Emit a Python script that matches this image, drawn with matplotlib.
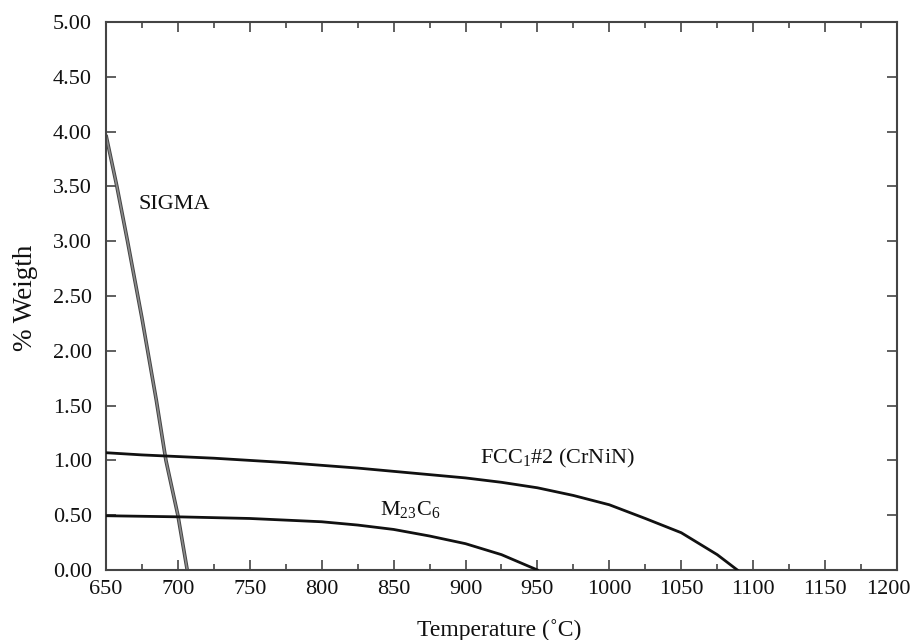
import matplotlib
matplotlib.use("Agg")
import matplotlib.pyplot as plt
from matplotlib.ticker import MultipleLocator, FormatStrFormatter
from matplotlib.transforms import ScaledTranslation

plt.rcParams['font.family'] = ['Liberation Serif', 'DejaVu Serif']
plt.rcParams['mathtext.default'] = 'regular'

# Phase fractions (% weight) versus temperature (°C)
sigma_T = [650, 657.6, 665, 675, 685, 691.7, 700, 706.5]
sigma_w = [3.97, 3.50, 3.00, 2.30, 1.55, 1.00, 0.50, 0.00]

fcc_T = [650, 675, 700, 725, 750, 775, 800, 825, 850, 875, 900, 925, 950,
         975, 1000, 1025, 1050, 1075, 1089]
fcc_w = [1.07, 1.05, 1.035, 1.02, 1.00, 0.98, 0.955, 0.93, 0.90, 0.87, 0.84,
         0.80, 0.75, 0.68, 0.595, 0.47, 0.34, 0.14, 0.00]

m23_T = [650, 700, 750, 775, 800, 825, 850, 875, 900, 925, 950]
m23_w = [0.495, 0.485, 0.47, 0.455, 0.44, 0.41, 0.37, 0.31, 0.24, 0.14, 0.00]

labels = {
    'SIGMA': (672.4, 3.29),
    'FCC$_1$#2 (CrNiN)': (910, 0.973),
    'M$_{23}$C$_6$': (840.5, 0.50),
}

fig = plt.figure(figsize=(9.15, 6.4), dpi=100)
ax = fig.add_axes([0.1158, 0.1094, 0.9803 - 0.1158, 0.9656 - 0.1094])

ax.plot(sigma_T, sigma_w, color='#444444', lw=2.6, solid_capstyle='butt', zorder=2)
ax.plot(sigma_T, sigma_w, color='#8a8a8a', lw=1.2, solid_capstyle='butt', zorder=2)
ax.plot(fcc_T, fcc_w, color='#111111', lw=2.0, zorder=3)
ax.plot(m23_T, m23_w, color='#111111', lw=2.0, zorder=3)

for txt, (tx, ty) in labels.items():
    ax.text(tx, ty, txt, fontsize=16, ha='left', va='baseline', color='#111111')

ax.set_xlim(650, 1200)
ax.set_ylim(0, 5)
ax.xaxis.set_major_locator(MultipleLocator(50))
ax.xaxis.set_minor_locator(MultipleLocator(25))
ax.yaxis.set_major_locator(MultipleLocator(0.5))
ax.yaxis.set_major_formatter(FormatStrFormatter('%.2f'))

ax.tick_params(which='both', direction='in', top=True, right=True,
               color='#444444', width=1.2, labelsize=16, labelcolor='#111111')
ax.tick_params(which='major', length=7)
ax.tick_params(which='minor', length=4)
ax.tick_params(axis='x', which='major', pad=7)
ax.tick_params(axis='y', which='major', pad=10)
for s in ax.spines.values():
    s.set_color('#444444')
    s.set_linewidth(1.5)

# nudge the right-most x tick label so it stays inside the figure
fig.canvas.draw()
locs = list(ax.xaxis.get_majorticklocs())
ticks = ax.xaxis.get_major_ticks(len(locs))
for loc, tick in zip(locs, ticks):
    if abs(loc - ax.get_xlim()[1]) < 1e-6:
        lab = tick.label1
        lab.set_transform(lab.get_transform() + ScaledTranslation(-0.09, 0, fig.dpi_scale_trans))

fig.text(26 / 915, 1 - 298 / 640, '% Weigth', rotation=90, ha='center', va='center',
         fontsize=19.5, color='#111111')
fig.text(499 / 915, 1 - 636 / 640, 'Temperature (˚C)', ha='center', va='baseline',
         fontsize=17, color='#111111')

fig.savefig('out.png', dpi=100)
